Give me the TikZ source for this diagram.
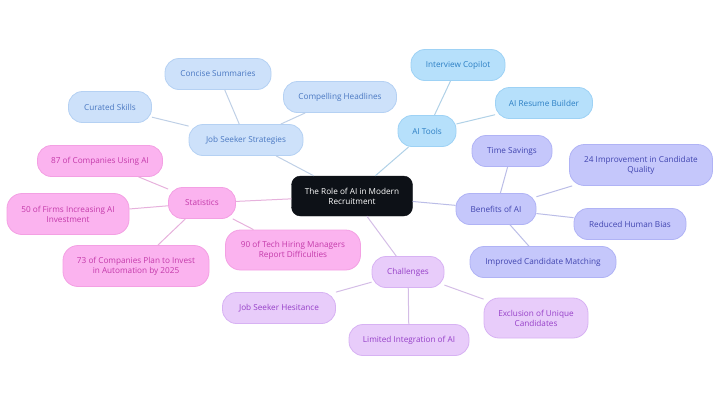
\documentclass[tikz,border=0pt]{standalone}
\usepackage{fontspec}
\setmainfont{Open Sans}

\definecolor{hubfill}{HTML}{0D1117}
\definecolor{jssfill}{HTML}{CDE1FA}
\definecolor{jssdraw}{HTML}{B5D1F3}
\definecolor{jsstext}{HTML}{4A78C2}
\definecolor{toolfill}{HTML}{B6E0FB}
\definecolor{tooldraw}{HTML}{9ED2F5}
\definecolor{tooltext}{HTML}{2C7FC4}
\definecolor{benfill}{HTML}{C5C7FB}
\definecolor{bendraw}{HTML}{B0B3F5}
\definecolor{bentext}{HTML}{4145B0}
\definecolor{chalfill}{HTML}{E8CCFA}
\definecolor{chaldraw}{HTML}{D7B2F3}
\definecolor{chaltext}{HTML}{9640C8}
\definecolor{statfill}{HTML}{FBB3EF}
\definecolor{statdraw}{HTML}{F3A0E3}
\definecolor{stattext}{HTML}{C43AAA}

\begin{document}
\begin{tikzpicture}[x=1pt,y=-1pt,
    leaf/.style={rounded corners=14pt, draw, line width=0.8pt, minimum height=31pt,
        inner xsep=3pt, align=center, font=\fontsize{8.2}{10}\selectfont},
    hub/.style={rounded corners=9pt, fill=hubfill, draw=hubfill, text=white,
        minimum width=121pt, minimum height=40pt, align=center,
        font=\fontsize{8.2}{10}\selectfont},
    jss/.style={leaf, fill=jssfill, draw=jssdraw, text=jsstext},
    tool/.style={leaf, fill=toolfill, draw=tooldraw, text=tooltext},
    ben/.style={leaf, fill=benfill, draw=bendraw, text=bentext},
    chal/.style={leaf, fill=chalfill, draw=chaldraw, text=chaltext},
    stat/.style={leaf, fill=statfill, draw=statdraw, text=stattext},
    jssline/.style={draw=jssdraw!90!black!70, line width=1pt},
    toolline/.style={draw=tooldraw!90!black!70, line width=1pt},
    benline/.style={draw=bendraw!90!black!70, line width=1pt},
    challine/.style={draw=chaldraw!90!black!70, line width=1pt},
    statline/.style={draw=statdraw!90!black!70, line width=1pt}]
    \useasboundingbox (0,0) rectangle (720,405);

    \node[hub] (C) at (352,196) {The Role of AI in Modern\\Recruitment};

    % Job Seeker Strategies
    \node[jss, minimum width=114pt] (JSS) at (246,140) {Job Seeker Strategies};
    \node[jss, minimum width=106pt] (Concise) at (218,74) {Concise Summaries};
    \node[jss, minimum width=83pt] (Curated) at (110,107) {Curated Skills};
    \node[jss, minimum width=113pt] (Headlines) at (340,97) {Compelling Headlines};

    % AI Tools
    \node[tool, minimum width=58pt] (Tools) at (427,131) {AI Tools};
    \node[tool, minimum width=94pt] (Copilot) at (458,65) {Interview Copilot};
    \node[tool, minimum width=97pt] (Resume) at (544,103) {AI Resume Builder};

    % Benefits of AI
    \node[ben, minimum width=80pt] (Ben) at (496,209) {Benefits of AI};
    \node[ben, minimum width=80pt] (Time) at (512,151) {Time Savings};
    \node[ben, minimum width=143pt, minimum height=41pt, rounded corners=15pt] (Quality) at (641,165) {24 Improvement in Candidate\\Quality};
    \node[ben, minimum width=112pt] (Bias) at (630,224) {Reduced Human Bias};
    \node[ben, minimum width=146pt] (Matching) at (543,262) {Improved Candidate Matching};

    % Challenges
    \node[chal, minimum width=72pt] (Chal) at (408,272) {Challenges};
    \node[chal, minimum width=113pt] (Hesitance) at (279,308) {Job Seeker Hesitance};
    \node[chal, minimum width=120pt] (Limited) at (409,340) {Limited Integration of AI};
    \node[chal, minimum width=104pt, minimum height=40pt, rounded corners=15pt] (Exclusion) at (536,318) {Exclusion of Unique\\Candidates};

    % Statistics
    \node[stat, minimum width=67pt] (Stat) at (202,203) {Statistics};
    \node[stat, minimum width=125pt] (Using) at (100,161) {87 of Companies Using AI};
    \node[stat, minimum width=122pt, minimum height=41pt, rounded corners=15pt] (Firms) at (68,214) {50 of Firms Increasing AI\\Investment};
    \node[stat, minimum width=146pt, minimum height=41pt, rounded corners=15pt] (Plan) at (136,266) {73 of Companies Plan to Invest\\in Automation by 2025};
    \node[stat, minimum width=135pt, minimum height=40pt, rounded corners=15pt] (Tech) at (293,250) {90 of Tech Hiring Managers\\Report Difficulties};

    % Линии
    \draw[jssline] (C) -- (JSS);
    \draw[jssline] (JSS) -- (Concise);
    \draw[jssline] (JSS) -- (Curated);
    \draw[jssline] (JSS) -- (Headlines);

    \draw[toolline] (C) -- (Tools);
    \draw[toolline] (Tools) -- (Copilot);
    \draw[toolline] (Tools) -- (Resume);

    \draw[benline] (C) -- (Ben);
    \draw[benline] (Ben) -- (Time);
    \draw[benline] (Ben) -- (Quality);
    \draw[benline] (Ben) -- (Bias);
    \draw[benline] (Ben) -- (Matching);

    \draw[challine] (C) -- (Chal);
    \draw[challine] (Chal) -- (Hesitance);
    \draw[challine] (Chal) -- (Limited);
    \draw[challine] (Chal) -- (Exclusion);

    \draw[statline] (C) -- (Stat);
    \draw[statline] (Stat) -- (Using);
    \draw[statline] (Stat) -- (Firms);
    \draw[statline] (Stat) -- (Plan);
    \draw[statline] (Stat) -- (Tech);
\end{tikzpicture}
\end{document}
